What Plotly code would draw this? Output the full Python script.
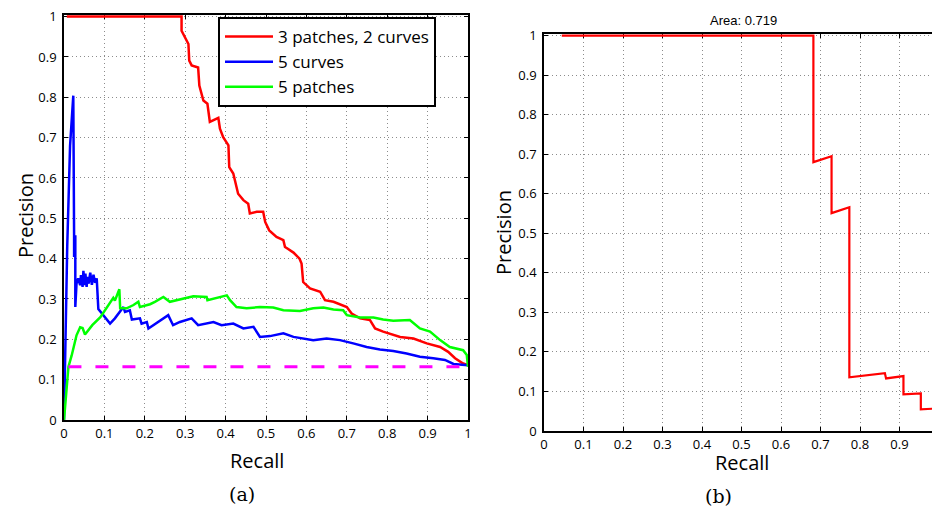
import plotly.graph_objects as go

# ---------------- data ----------------
# (a) precision–recall curves
red_recall = [0.007, 0.291, 0.291, 0.300, 0.308, 0.310, 0.316, 0.332, 0.335, 0.345, 0.355,
              0.361, 0.382, 0.386, 0.394, 0.407, 0.409, 0.419, 0.431, 0.444, 0.456, 0.460,
              0.477, 0.493, 0.498, 0.508, 0.526, 0.543, 0.547, 0.553, 0.568, 0.583, 0.588,
              0.592, 0.609, 0.634, 0.646, 0.667, 0.700, 0.712, 0.733, 0.757, 0.770, 0.790,
              0.832, 0.865, 0.898, 0.931, 0.951, 0.968, 0.988, 1.000]
red_precision = [1.000, 1.000, 0.965, 0.949, 0.932, 0.891, 0.879, 0.874, 0.829, 0.792, 0.784,
                 0.739, 0.749, 0.722, 0.701, 0.681, 0.627, 0.611, 0.561, 0.545, 0.536, 0.512,
                 0.516, 0.516, 0.491, 0.470, 0.454, 0.446, 0.429, 0.425, 0.415, 0.400, 0.388,
                 0.342, 0.326, 0.318, 0.297, 0.293, 0.280, 0.264, 0.252, 0.248, 0.227, 0.219,
                 0.206, 0.202, 0.190, 0.181, 0.169, 0.153, 0.140, 0.136]

blue_recall = [0.000, 0.008, 0.015, 0.023, 0.025, 0.025, 0.028, 0.028, 0.031, 0.035, 0.040,
               0.042, 0.046, 0.048, 0.051, 0.053, 0.056, 0.058, 0.061, 0.065, 0.069, 0.073,
               0.077, 0.081, 0.085, 0.097, 0.114, 0.126, 0.147, 0.151, 0.163, 0.168, 0.188,
               0.192, 0.205, 0.209, 0.233, 0.258, 0.270, 0.287, 0.316, 0.332, 0.370, 0.390,
               0.419, 0.444, 0.469, 0.485, 0.510, 0.543, 0.568, 0.592, 0.617, 0.650, 0.683,
               0.716, 0.749, 0.782, 0.815, 0.848, 0.881, 0.914, 0.943, 0.964, 1.000]
blue_precision = [0.000, 0.430, 0.680, 0.804, 0.458, 0.404, 0.458, 0.280, 0.338, 0.351, 0.334,
                  0.359, 0.330, 0.370, 0.334, 0.363, 0.330, 0.355, 0.338, 0.365, 0.335, 0.360,
                  0.340, 0.351, 0.275, 0.260, 0.239, 0.252, 0.280, 0.268, 0.272, 0.249, 0.252,
                  0.239, 0.243, 0.227, 0.243, 0.260, 0.235, 0.243, 0.252, 0.235, 0.243, 0.235,
                  0.239, 0.227, 0.231, 0.206, 0.208, 0.215, 0.206, 0.202, 0.198, 0.202, 0.198,
                  0.190, 0.181, 0.175, 0.171, 0.165, 0.157, 0.153, 0.149, 0.139, 0.136]

green_recall = [0.000, 0.011, 0.019, 0.031, 0.040, 0.046, 0.052, 0.070, 0.090, 0.114, 0.122,
                0.126, 0.137, 0.139, 0.155, 0.172, 0.184, 0.188, 0.213, 0.225, 0.246, 0.262,
                0.279, 0.295, 0.320, 0.353, 0.355, 0.403, 0.411, 0.427, 0.452, 0.485, 0.518,
                0.543, 0.584, 0.617, 0.642, 0.667, 0.691, 0.700, 0.733, 0.766, 0.790, 0.815,
                0.856, 0.881, 0.906, 0.931, 0.955, 0.988, 0.997, 1.000]
green_precision = [0.000, 0.132, 0.160, 0.210, 0.230, 0.228, 0.212, 0.235, 0.255, 0.289, 0.303,
                   0.296, 0.324, 0.277, 0.277, 0.285, 0.293, 0.280, 0.287, 0.293, 0.305, 0.293,
                   0.297, 0.301, 0.307, 0.305, 0.297, 0.309, 0.297, 0.280, 0.277, 0.280, 0.279,
                   0.272, 0.270, 0.277, 0.279, 0.274, 0.272, 0.260, 0.254, 0.254, 0.249, 0.246,
                   0.248, 0.227, 0.219, 0.198, 0.181, 0.173, 0.161, 0.132]

baseline_recall = [0.011, 1.000]
baseline_precision = [0.132, 0.132]

series_names = ["3 patches, 2 curves", "5 curves", "5 patches"]

# (b) single precision–recall curve
b_recall = [0.045, 0.682, 0.682, 0.728, 0.728, 0.773, 0.773, 0.817, 0.863, 0.866, 0.910,
            0.910, 0.954, 0.954, 0.997, 0.997]
b_precision = [1.000, 1.000, 0.680, 0.695, 0.551, 0.566, 0.136, 0.141, 0.146, 0.133, 0.139,
               0.093, 0.095, 0.055, 0.057, 0.028]
b_title = "Area: 0.719"

tick_vals = [0, 0.1, 0.2, 0.3, 0.4, 0.5, 0.6, 0.7, 0.8, 0.9, 1]
tick_text = ["0", "0.1", "0.2", "0.3", "0.4", "0.5", "0.6", "0.7", "0.8", "0.9", "1"]

# ---------------- figure ----------------
# the page body has an 8px default margin; size the figure so it fills the 940x510 window
PAGE_W, PAGE_H, OFF = 940, 510, 8
W, H = PAGE_W - OFF, PAGE_H - OFF

def px_x(p):
    return (p - OFF) / W

def px_y(p):
    return 1 - (p - OFF) / H

fig = go.Figure()

lw = 2.5
fig.add_trace(go.Scatter(x=red_recall, y=red_precision, mode="lines", name=series_names[0],
                         line=dict(color="#ff0000", width=lw), xaxis="x", yaxis="y"))
fig.add_trace(go.Scatter(x=blue_recall, y=blue_precision, mode="lines", name=series_names[1],
                         line=dict(color="#0000ff", width=lw), xaxis="x", yaxis="y"))
fig.add_trace(go.Scatter(x=green_recall, y=green_precision, mode="lines", name=series_names[2],
                         line=dict(color="#00ff00", width=lw), xaxis="x", yaxis="y"))
fig.add_trace(go.Scatter(x=baseline_recall, y=baseline_precision, mode="lines", showlegend=False,
                         line=dict(color="#ff00ff", width=3, dash="13px,14px"), xaxis="x", yaxis="y"))
fig.add_trace(go.Scatter(x=b_recall, y=b_precision, mode="lines", showlegend=False,
                         line=dict(color="#ff0000", width=2.2), xaxis="x2", yaxis="y2"))

tickfont = dict(family="Open Sans, Noto Sans, sans-serif", size=13, color="black")
axis_common = dict(tickvals=tick_vals, ticktext=tick_text, tickfont=tickfont,
                   showline=True, linecolor="black", linewidth=1.5, mirror="allticks",
                   ticks="inside", ticklen=4, tickcolor="black", ticklabeloverflow="allow",
                   showgrid=True, gridcolor="#8c8c8c", gridwidth=1, griddash="1px,3px",
                   zeroline=False, fixedrange=True, automargin=False, layer="below traces")

fig.update_layout(
    template="none",
    width=W, height=H,
    margin=dict(l=0, r=0, t=0, b=0, pad=0, autoexpand=False),
    paper_bgcolor="white", plot_bgcolor="white",
    showlegend=True,
    xaxis=dict(domain=[px_x(64), px_x(468)], anchor="y", range=[0, 1], ticklabelstandoff=1, **axis_common),
    yaxis=dict(domain=[px_y(420), px_y(15)], anchor="x", range=[0, 1.004], ticklabelstandoff=3, **axis_common),
    xaxis2=dict(domain=[px_x(544), px_x(939)], anchor="y2", range=[0, 1], ticklabelstandoff=1, **axis_common),
    yaxis2=dict(domain=[px_y(431), px_y(34)], anchor="x2", range=[0, 1.004], ticklabelstandoff=3, **axis_common),
    legend=dict(x=px_x(218), y=px_y(17), xanchor="left", yanchor="top",
                bgcolor="white", bordercolor="black", borderwidth=2,
                font=dict(family="Open Sans, Noto Sans, sans-serif", size=17, color="black"),
                itemwidth=48, tracegroupgap=0, entrywidth=200),
)

label_font = dict(family="Open Sans, Noto Sans, sans-serif", size=20, color="black")
serif_font = dict(family="DejaVu Serif, Liberation Serif, serif", size=19, color="black")
annots = [
    dict(text="Precision", x=px_x(25), y=px_y(216), textangle=-90, font=label_font),
    dict(text="Recall", x=px_x(257), y=px_y(460), font=label_font),
    dict(text="(a)", x=px_x(242), y=px_y(494), font=serif_font),
    dict(text="Precision", x=px_x(503), y=px_y(233), textangle=-90, font=label_font),
    dict(text="Recall", x=px_x(742), y=px_y(462), font=label_font),
    dict(text="(b)", x=px_x(718), y=px_y(496), font=serif_font),
    dict(text=b_title, x=px_x(743), y=px_y(21),
         font=dict(family="Liberation Sans, Arial, sans-serif", size=13, color="black")),
]
for a in annots:
    fig.add_annotation(xref="paper", yref="paper", showarrow=False,
                       xanchor="center", yanchor="middle", **a)

fig.write_html("out.html")
